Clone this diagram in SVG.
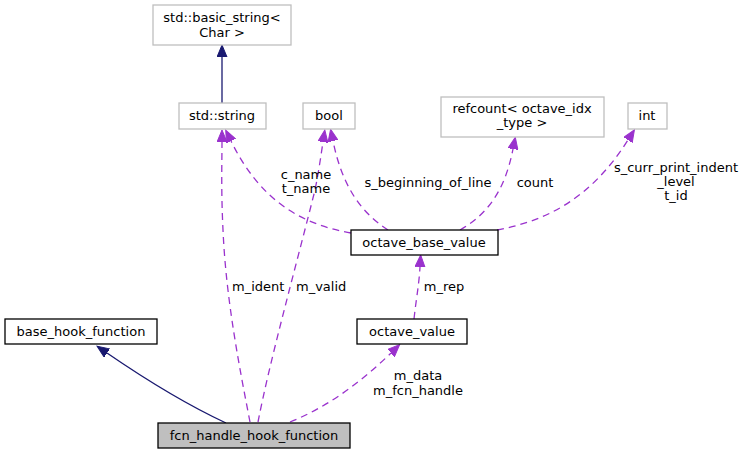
<svg xmlns="http://www.w3.org/2000/svg" width="745" height="455" viewBox="0 0 745 455">
<style>
text{font-family:"DejaVu Sans",sans-serif;font-size:13px;fill:#000}
.c{text-anchor:middle}
.ext rect{fill:#fff;stroke:#bfbfbf;stroke-width:1.3}
.doc rect{fill:#fff;stroke:#000;stroke-width:1.3}
.inh{fill:none;stroke:#191970;stroke-width:1.3}
.use{fill:none;stroke:#9a32cd;stroke-width:1.3;stroke-dasharray:7,5}
</style>
<defs>
<marker id="an" markerUnits="userSpaceOnUse" markerWidth="13" markerHeight="11" refX="0" refY="5" orient="auto" viewBox="0 0 13 10">
<path d="M0,0 L12,5 L0,10 Z" fill="#191970" stroke="#191970"/>
</marker>
<marker id="ap" markerUnits="userSpaceOnUse" markerWidth="13" markerHeight="11" refX="0" refY="5" orient="auto" viewBox="0 0 13 10">
<path d="M0,0 L12,5 L0,10 Z" fill="#9a32cd" stroke="#9a32cd"/>
</marker>
</defs>
<g id="edges">
<path class="inh" d="M222,103 L222,57" marker-end="url(#an)"/>
<path class="inh" d="M226,423 C196,409 158,388 107,353" marker-end="url(#an)"/>
<path class="use" d="M250,422 C240,370 226,300 223,230 C221,190 222,160 222,142" marker-end="url(#ap)"/>
<path class="use" d="M258,422 C270,360 295,270 315,190 C319,170 321,155 323,142" marker-end="url(#ap)"/>
<path class="use" d="M351,233 C300,224 260,200 231,141" marker-end="url(#ap)"/>
<path class="use" d="M388,230 C360,212 342,185 333,141" marker-end="url(#ap)"/>
<path class="use" d="M460,230 C488,214 505,190 513,149" marker-end="url(#ap)"/>
<path class="use" d="M497,230 C545,221 590,200 628,140" marker-end="url(#ap)"/>
<path class="use" d="M414,319 C416,300 419,285 420,267" marker-end="url(#ap)"/>
<path class="use" d="M290,422 C325,408 358,385 391,353" marker-end="url(#ap)"/>
<text x="232" y="291">m_ident</text>
<text x="296" y="291">m_valid</text>
<text class="c" x="306" y="179">c_name</text>
<text class="c" x="306" y="193">t_name</text>
<text class="c" x="428" y="187">s_beginning_of_line</text>
<text class="c" x="535" y="187">count</text>
<text class="c" x="676" y="172">s_curr_print_indent</text>
<text class="c" x="676" y="186">_level</text>
<text class="c" x="676" y="200">t_id</text>
<text class="c" x="444" y="291">m_rep</text>
<text class="c" x="418" y="380">m_data</text>
<text class="c" x="418" y="395">m_fcn_handle</text>
</g>
<g id="basic_string" class="ext"><rect x="153" y="5" width="138" height="40"/><text class="c" x="222" y="22">std::basic_string&lt;</text><text class="c" x="222" y="37">Char &gt;</text></g>
<g id="string" class="ext"><rect x="179" y="103" width="87" height="26"/><text class="c" x="222" y="120">std::string</text></g>
<g id="bool" class="ext"><rect x="303" y="103" width="52" height="26"/><text class="c" x="329" y="120">bool</text></g>
<g id="refcount" class="ext"><rect x="441" y="97" width="163" height="40"/><text class="c" x="522" y="113">refcount&lt; octave_idx</text><text class="c" x="522" y="127">_type &gt;</text></g>
<g id="int" class="ext"><rect x="628" y="103" width="39" height="26"/><text class="c" x="647" y="120">int</text></g>
<g id="octave_base_value" class="doc"><rect x="351" y="230" width="147" height="25"/><text class="c" x="424" y="247">octave_base_value</text></g>
<g id="octave_value" class="doc"><rect x="357" y="319" width="110" height="25"/><text class="c" x="412" y="336">octave_value</text></g>
<g id="base_hook_function" class="doc"><rect x="5" y="319" width="152" height="25"/><text class="c" x="81" y="336">base_hook_function</text></g>
<g id="fcn_handle_hook_function"><rect x="158" y="423" width="192" height="25" fill="#bfbfbf" stroke="#000" stroke-width="1.3"/><text class="c" x="254" y="440">fcn_handle_hook_function</text></g>
</svg>
